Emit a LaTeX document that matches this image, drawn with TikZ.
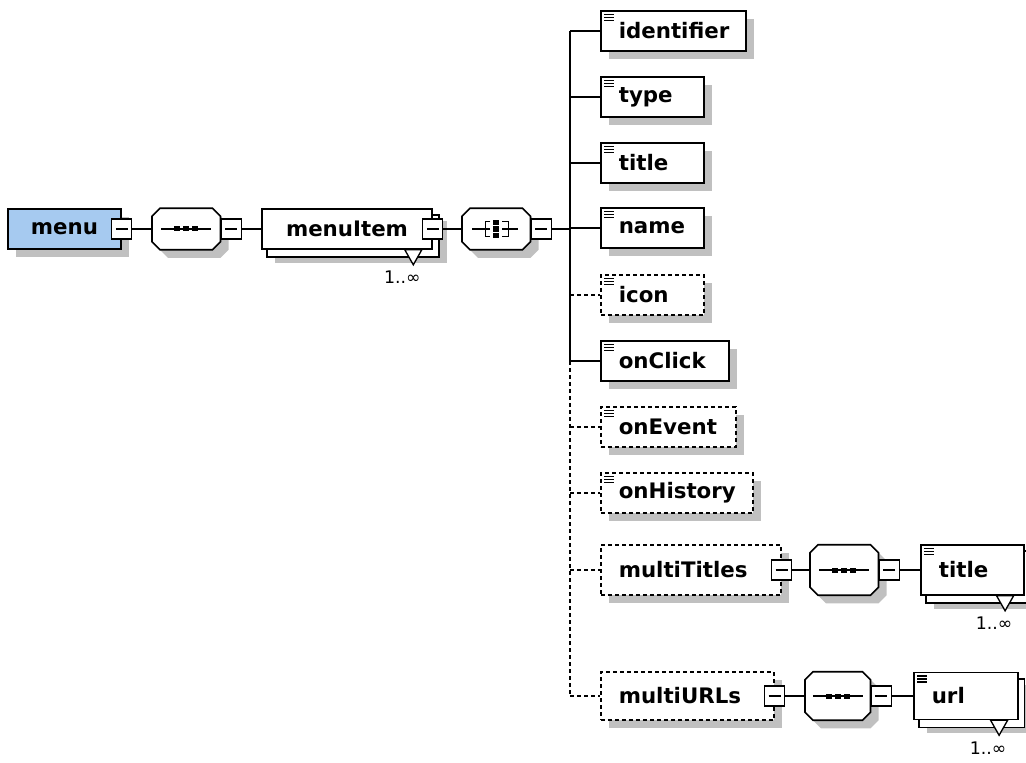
\documentclass[tikz,border=0pt]{standalone}
\usepackage{fontspec}
\setmainfont{DejaVu Sans}
\usetikzlibrary{shadows,backgrounds,calc}

\definecolor{menublue}{RGB}{166,202,240}
\definecolor{shadowgray}{RGB}{192,192,192}

% octagon round a compositor node, moved by #2
\newcommand{\octagonpath}[2]{($(#1.north west)+(8,0)+#2$) -- ($(#1.north east)+(-8,0)+#2$)
  -- ($(#1.north east)+(0,8)+#2$) -- ($(#1.south east)+(0,-8)+#2$)
  -- ($(#1.south east)+(-8,0)+#2$) -- ($(#1.south west)+(8,0)+#2$)
  -- ($(#1.south west)+(0,-8)+#2$) -- ($(#1.north west)+(0,8)+#2$) -- cycle}

\begin{document}
\begin{tikzpicture}
  [x=0.75pt, y=-0.75pt,
   every node/.style={font=\bfseries\fontsize{16}{19}\selectfont, inner sep=0pt},
   conn/.style={line width=1.2pt},
   optional/.style={dash pattern=on 3pt off 2.25pt},
   shade/.style={drop shadow={shadow xshift=6pt, shadow yshift=-6pt, fill=shadowgray, opacity=1}},
   box/.style={draw, fill=white, line width=1.2pt, minimum height=30pt},
   elem/.style={box, shade},
   leaf/.style={anchor=west, inner xsep=13.5pt, align=left,
     path picture={\foreach \k in {3.5,6.5,9.5}
       \draw[solid, line width=0.8pt] ($(path picture bounding box.north west)+(3.5,\k)$) -- +(9.5,0);}},
   minus/.style={draw, solid, fill=white, line width=1pt, minimum size=15pt,
     path picture={\draw[line width=0.9pt] ($(path picture bounding box.center)+(-6,0)$) -- +(12,0);}},
   compositor/.style={minimum width=51pt, minimum height=30.75pt, anchor=west},
   mult/.style={font=\fontsize{13}{15}\selectfont, anchor=north east}]
  \useasboundingbox (0,0) rectangle (1026,763);

  % root and its content model
  \node[elem, fill=menublue, minimum width=84.75pt] (menu) at (64.5,229) {menu};
  \node[minus] (menuMinus) at (menu.east) {};
  \node[compositor] (menuSeq) at (152,229) {};
  \node[minus, anchor=west] (menuSeqMinus) at (menuSeq.east) {};
  \node[box, minimum width=127.5pt] (menuItem) at (347,229) {menuItem};
  \node[minus] (menuItemMinus) at (menuItem.east) {};
  \node[compositor] (itemChoice) at (462,229) {};
  \node[minus, anchor=west] (itemChoiceMinus) at (itemChoice.east) {};
  \coordinate (spine) at (570,229);

  \draw[conn] (menuMinus.east) -- (menuSeq.west);
  \draw[conn] (menuSeqMinus.east) -- (menuItem.west);
  \draw[conn] (menuItemMinus.east) -- (itemChoice.west);
  \draw[conn] (itemChoiceMinus.east) -- (spine);

  % children of the choice
  \foreach \n/\y/\tw in {identifier/31/81.75pt, type/97/50.25pt, title/163/50.25pt,
                         name/228/50.25pt, onClick/361/69pt}
    \node[elem, leaf, text width=\tw] (\n) at (600,\y) {\n};
  \foreach \n/\y/\tw in {icon/295/50.25pt, onEvent/427/74.25pt, onHistory/493/87pt}
    \node[elem, leaf, optional, text width=\tw] (\n) at (600,\y) {\n};

  % multiTitles
  \node[elem, optional, anchor=west, minimum width=135pt, minimum height=37.5pt,
        inner xsep=13.5pt, text width=108pt, align=left] (multiTitles) at (600,570) {multiTitles};
  \node[minus] (multiTitlesMinus) at (multiTitles.east) {};
  \node[compositor, minimum height=37.5pt] (titlesSeq) at (810,570) {};
  \node[minus, anchor=west] (titlesSeqMinus) at (titlesSeq.east) {};
  \node[box, leaf, minimum height=37.5pt, text width=50.25pt] (multiTitle) at (920,570) {title};

  % multiURLs
  \node[elem, optional, anchor=west, minimum width=129.75pt, minimum height=36pt,
        inner xsep=13.5pt, text width=102.75pt, align=left] (multiURLs) at (600,696) {multiURLs};
  \node[minus] (multiURLsMinus) at (multiURLs.east) {};
  \node[compositor, minimum height=36pt, minimum width=48.75pt] (urlsSeq) at (805,696) {};
  \node[minus, anchor=west] (urlsSeqMinus) at (urlsSeq.east) {};
  \node[box, leaf, minimum height=35.25pt, text width=51pt] (multiURL) at (913,696) {url};

  \draw[conn] (multiTitlesMinus.east) -- (titlesSeq.west);
  \draw[conn] (titlesSeqMinus.east) -- (multiTitle.west);
  \draw[conn] (multiURLsMinus.east) -- (urlsSeq.west);
  \draw[conn] (urlsSeqMinus.east) -- (multiURL.west);

  % spine and branches
  \draw[conn] (spine |- identifier.west) -- (spine |- onClick.west);
  \draw[conn, optional] (spine |- onClick.west) -- (spine |- multiURLs.west);
  \foreach \n in {identifier, type, title, name, onClick}
    \draw[conn] (spine |- \n.west) -- (\n.west);
  \foreach \n in {icon, onEvent, onHistory, multiTitles, multiURLs}
    \draw[conn, optional] (spine |- \n.west) -- (\n.west);

  % octagons and repeated elements
  \begin{scope}[on background layer]
    \foreach \n in {menuSeq, itemChoice, titlesSeq, urlsSeq} {
      \fill[shadowgray] \octagonpath{\n}{(8,8)};
      \draw[fill=white, line width=1.2pt] \octagonpath{\n}{(0,0)};
    }
    \foreach \n in {menuItem, multiTitle, multiURL} {
      \fill[shadowgray] ($(\n.north west)+(14,13)$) rectangle ($(\n.south east)+(14,13)$);
      \draw[fill=white, line width=1.2pt] ($(\n.north west)+(6,7)$) rectangle ($(\n.south east)+(6,7)$);
    }
  \end{scope}
  \foreach \n in {menuSeq, titlesSeq, urlsSeq} {
    \draw[line width=1pt] ($(\n.center)+(-25,0)$) -- ($(\n.center)+(25,0)$);
    \foreach \d in {-9,0,9} \fill ($(\n.center)+(\d,0)+(-3,-2.5)$) rectangle +(6,5);
  }
  \draw[line width=1pt] ($(itemChoice.center)+(-24,0)$) -- ($(itemChoice.center)+(-6,0)$)
    ($(itemChoice.center)+(-6,-7.5)$) -- ($(itemChoice.center)+(-11,-7.5)$)
    -- ($(itemChoice.center)+(-11,7.5)$) -- ($(itemChoice.center)+(-6,7.5)$)
    ($(itemChoice.center)+(6,0)$) -- ($(itemChoice.center)+(22,0)$)
    ($(itemChoice.center)+(6,-7.5)$) -- ($(itemChoice.center)+(12,-7.5)$)
    -- ($(itemChoice.center)+(12,7.5)$) -- ($(itemChoice.center)+(6,7.5)$);
  \foreach \d in {-6.5,0,6.5}
    \fill ($(itemChoice.center)+(-3,\d)+(0,-2.75)$) rectangle +(6,5.5);
  \foreach \n in {menuItem, multiTitle, multiURL} {
    \draw[fill=white, line width=1pt] ($(\n.south east)+(-28,0)$) -- ++(17,0) -- ++(-8.5,15) -- cycle;
    \node[mult] at ($(\n.south east)+(-12,21)$) {1..∞};
  }
\end{tikzpicture}
\end{document}
